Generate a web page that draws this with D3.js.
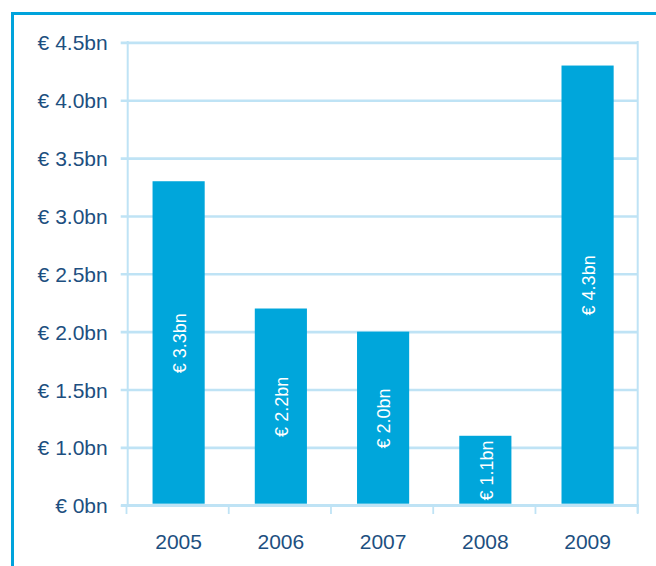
<!DOCTYPE html>
<html><head><meta charset="utf-8">
<script src="https://cdn.jsdelivr.net/npm/d3@7"></script>
<style>
html,body{margin:0;padding:0;background:#fff;}
svg{display:block;}
text{font-family:"Liberation Sans",Arial,Helvetica,sans-serif;}
</style></head>
<body>
<svg id="chart" width="656" height="566"></svg>
<script>
const years = ["2005","2006","2007","2008","2009"];
const values = [3.3, 2.2, 2.0, 1.1, 4.3];
const barLabels = ["€ 3.3bn","€ 2.2bn","€ 2.0bn","€ 1.1bn","€ 4.3bn"];
const tickValues = [0.5, 1.0, 1.5, 2.0, 2.5, 3.0, 3.5, 4.0, 4.5];
const tickLabels = ["€ 0bn","€ 1.0bn","€ 1.5bn","€ 2.0bn","€ 2.5bn","€ 3.0bn","€ 3.5bn","€ 4.0bn","€ 4.5bn"];

const navy = "#1d4f80", barCol = "#00a6db", grid = "#bfe3f5", frame = "#00a3dc";
const svg = d3.select("#chart");

// outer frame
svg.append("path").attr("d","M12.5,566V13.5H656").attr("fill","none")
  .attr("stroke",frame).attr("stroke-width",3);

const x = d3.scaleBand().domain(years).range([126.5, 637.7]).paddingInner(0.49).paddingOuter(0.245);
const y = d3.scaleLinear().domain([0.5, 4.5]).range([505.2, 42.4]);
const xLeft = 127.7, xRight = 637.7, barShift = 1;

// gridlines (except bottom) via axis
const gAxis = svg.append("g").attr("transform",`translate(${xLeft},0)`)
  .call(d3.axisLeft(y).tickValues(tickValues).tickFormat((d,i)=>tickLabels[i]).tickSize(7).tickPadding(13));
gAxis.select(".domain").remove();
gAxis.selectAll(".tick line").attr("stroke",grid).attr("stroke-width",2.6)
  .attr("x1",-7).attr("x2", xRight - xLeft);
gAxis.selectAll(".tick text").attr("fill",navy).style("font-size","21px")
  .attr("dy","0.36em");

// bars
svg.append("g").selectAll("rect").data(values).join("rect")
  .attr("x",(d,i)=>x(years[i])+barShift).attr("width",x.bandwidth())
  .attr("y",d=>y(d)).attr("height",d=>y(0.5)-1.5-y(d)).attr("fill",barCol);

// bar labels
svg.append("g").selectAll("text").data(values).join("text")
  .attr("transform",(d,i)=>`translate(${x(years[i])+barShift+x.bandwidth()/2+1},${(y(d)+y(0.5))/2}) rotate(-90)`)
  .attr("text-anchor","middle").attr("dy","0.35em")
  .attr("fill","#fff").style("font-size","18px")
  .text((d,i)=>barLabels[i]);

// bottom line, left axis, right line
svg.append("line").attr("x1",121).attr("x2",xRight+1).attr("y1",y(0.5)).attr("y2",y(0.5))
  .attr("stroke",grid).attr("stroke-width",2.6);
svg.append("line").attr("x1",xLeft).attr("x2",xLeft).attr("y1",y(4.5)-1.3).attr("y2",y(0.5))
  .attr("stroke",grid).attr("stroke-width",2);
svg.append("line").attr("x1",xRight).attr("x2",xRight).attr("y1",y(4.5)-1.3).attr("y2",513)
  .attr("stroke",grid).attr("stroke-width",2);

// x axis (category boundaries + labels)
const step = x.step();
const xAxis = svg.append("g").attr("transform",`translate(${barShift},${y(0.5)})`)
  .call(d3.axisBottom(x).tickSize(0).tickPadding(0));
xAxis.select(".domain").remove();
xAxis.selectAll(".tick text").attr("fill",navy).style("font-size","21px")
  .attr("y",44).attr("dy",0);
const bounds = years.map((c,i)=>x(c)-(step-x.bandwidth())/2).concat([x(years[years.length-1])+x.bandwidth()+(step-x.bandwidth())/2]);
svg.append("g").selectAll("line").data(bounds).join("line")
  .attr("x1",d=>d).attr("x2",d=>d).attr("y1",y(0.5)).attr("y2",514)
  .attr("stroke",grid).attr("stroke-width",1.8);
</script>
</body></html>
